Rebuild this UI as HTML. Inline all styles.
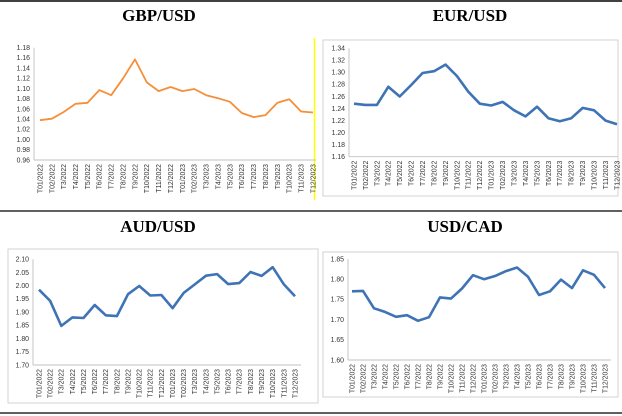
<!DOCTYPE html>
<html><head><meta charset="utf-8"><style>
html,body{margin:0;padding:0;background:#fff;width:622px;height:416px;overflow:hidden}
svg{display:block}
</style></head><body>
<svg id="s" width="622" height="416" xmlns="http://www.w3.org/2000/svg" font-family="Liberation Sans, sans-serif">
<line x1="0" y1="1" x2="622" y2="1" stroke="#000" stroke-width="1.5"/>
<line x1="0" y1="211" x2="622" y2="211" stroke="#000" stroke-width="1.2"/>
<line x1="0" y1="413" x2="622" y2="413" stroke="#000" stroke-width="1.2"/>
<g font-family="Liberation Serif, serif" font-weight="bold" font-size="17" text-anchor="middle">
<text x="159" y="21">GBP/USD</text>
<text x="470" y="21">EUR/USD</text>
<text x="158" y="232">AUD/USD</text>
<text x="465" y="232">USD/CAD</text>
</g>
<line x1="314.5" y1="38" x2="314.5" y2="200" stroke="#ffff00" stroke-width="1.5"/>
<rect x="323" y="40" width="295" height="156" fill="none" stroke="#c8c8c8" stroke-width="0.8"/>
<rect x="8" y="249" width="310" height="154" fill="none" stroke="#c8c8c8" stroke-width="0.8"/>
<rect x="323" y="252" width="295" height="145" fill="none" stroke="#c8c8c8" stroke-width="0.8"/>
</svg>
<script>
const labels=["T01/2022","T02/2022","T3/2022","T4/2022","T5/2022","T6/2022","T7/2022","T8/2022","T9/2022","T10/2022","T11/2022","T12/2022","T01/2023","T02/2023","T3/2023","T4/2023","T5/2023","T6/2023","T7/2023","T8/2023","T9/2023","T10/2023","T11/2023","T12/2023"];
const charts=[
{ax:34,x0:40,x1:313,axEnd:316,yTop:47.7,yBot:160,vTop:1.18,vBot:0.96,step:0.02,dec:2,col:"#f58f3a",w:1.8,
 d:[1.038,1.041,1.054,1.070,1.072,1.097,1.087,1.120,1.157,1.112,1.095,1.103,1.095,1.099,1.087,1.081,1.074,1.052,1.044,1.048,1.072,1.079,1.055,1.053]},
{ax:349,x0:354,x1:617,axEnd:618,yTop:48.3,yBot:156.7,vTop:1.34,vBot:1.16,step:0.02,dec:2,col:"#3e73b5",w:2.6,
 d:[1.248,1.246,1.246,1.276,1.260,1.279,1.299,1.302,1.313,1.294,1.268,1.248,1.245,1.251,1.237,1.227,1.243,1.224,1.219,1.224,1.241,1.237,1.220,1.214]},
{ax:33,x0:39,x1:295,axEnd:301,yTop:259.3,yBot:365,vTop:2.10,vBot:1.70,step:0.05,dec:2,col:"#3e73b5",w:2.6,
 d:[1.985,1.943,1.848,1.880,1.878,1.927,1.888,1.885,1.968,1.999,1.963,1.965,1.915,1.973,2.005,2.038,2.044,2.006,2.010,2.052,2.037,2.070,2.005,1.960]},
{ax:348,x0:352,x1:605,axEnd:611,yTop:259,yBot:360,vTop:1.85,vBot:1.60,step:0.05,dec:2,col:"#3e73b5",w:2.6,
 d:[1.770,1.771,1.728,1.719,1.707,1.711,1.697,1.706,1.755,1.752,1.777,1.810,1.800,1.808,1.820,1.829,1.806,1.761,1.770,1.799,1.778,1.822,1.811,1.778]}
];
const s=document.getElementById('s');let h='';
for(const c of charts){
 const Y=v=>c.yBot-(v-c.vBot)/(c.vTop-c.vBot)*(c.yBot-c.yTop);
 const dx=(c.x1-c.x0)/23;
 h+=`<line x1="${c.ax}" y1="${c.yTop}" x2="${c.ax}" y2="${c.yBot}" stroke="#c0c0c0" stroke-width="0.9"/>`;
 h+=`<line x1="${c.ax}" y1="${c.yBot}" x2="${c.axEnd}" y2="${c.yBot}" stroke="#c0c0c0" stroke-width="0.9"/>`;
 const n=Math.round((c.vTop-c.vBot)/c.step);
 for(let i=0;i<=n;i++){const v=c.vBot+i*c.step;
  h+=`<text x="${c.ax-4}" y="${Y(v)+2.3}" font-size="6.9" fill="#333" text-anchor="end">${v.toFixed(c.dec)}</text>`;}
 for(let i=0;i<24;i++){const x=c.x0+i*dx;
  h+=`<text transform="translate(${x+2.4},${c.yBot+4}) rotate(-90)" font-size="6.9" fill="#333" text-anchor="end">${labels[i]}</text>`;}
 h+=`<polyline fill="none" stroke="${c.col}" stroke-width="${c.w}" stroke-linejoin="round" points="${c.d.map((v,i)=>(c.x0+i*dx).toFixed(1)+','+Y(v).toFixed(1)).join(' ')}"/>`;
}
s.insertAdjacentHTML('beforeend',h);
</script>
</body></html>
